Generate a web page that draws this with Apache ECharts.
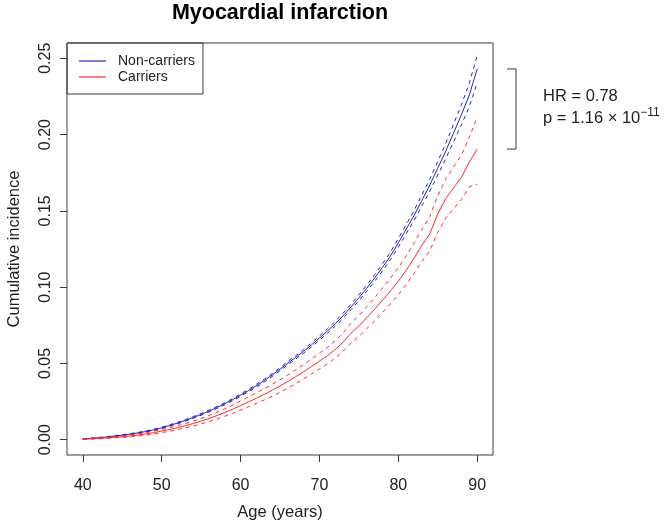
<!DOCTYPE html>
<html><head><meta charset="utf-8">
<script src="https://cdn.jsdelivr.net/npm/echarts@6/dist/echarts.min.js"></script>
<style>html,body{margin:0;padding:0;background:#fff}#c{width:666px;height:524px}</style>
</head><body><div id="c"></div>
<script>
// ---- data ----
const ages = [40,41,42,43,44,45,46,47,48,49,50,51,52,53,54,55,56,57,58,59,60,61,62,63,64,65,66,67,68,69,70,71,72,73,74,75,76,77,78,79,80,81,82,83,84,85,86,87,88,89,90];
const nonCarriers = [0.0005,0.0009,0.0013,0.0018,0.0024,0.0030,0.0037,0.0045,0.0054,0.0065,0.0078,0.0093,0.0109,0.0127,0.0146,0.0166,0.0188,0.0211,0.0236,0.0263,0.0292,0.0322,0.0354,0.0388,0.0424,0.0462,0.0502,0.0540,0.0580,0.0622,0.0666,0.0712,0.0760,0.0812,0.0870,0.0930,0.0993,0.1060,0.1130,0.1205,0.1290,0.1380,0.1470,0.1570,0.1670,0.1780,0.1890,0.2010,0.2130,0.2260,0.2430];
const nonCarriersUpper = [0.0007,0.0011,0.0015,0.0020,0.0027,0.0033,0.0040,0.0048,0.0058,0.0069,0.0082,0.0098,0.0114,0.0132,0.0152,0.0172,0.0194,0.0218,0.0243,0.0270,0.0300,0.0330,0.0363,0.0397,0.0434,0.0472,0.0513,0.0551,0.0592,0.0635,0.0680,0.0727,0.0776,0.0829,0.0888,0.0949,0.1013,0.1082,0.1153,0.1230,0.1318,0.1410,0.1503,0.1606,0.1710,0.1825,0.1940,0.2068,0.2196,0.2336,0.2520];
const nonCarriersLower = [0.0003,0.0007,0.0011,0.0016,0.0021,0.0027,0.0034,0.0042,0.0050,0.0061,0.0074,0.0088,0.0104,0.0122,0.0140,0.0160,0.0182,0.0204,0.0229,0.0256,0.0284,0.0314,0.0345,0.0379,0.0414,0.0452,0.0491,0.0529,0.0568,0.0609,0.0652,0.0697,0.0744,0.0795,0.0852,0.0911,0.0973,0.1038,0.1107,0.1180,0.1262,0.1350,0.1437,0.1534,0.1630,0.1735,0.1840,0.1952,0.2064,0.2184,0.2340];
const carriers = [0.0004,0.0006,0.0009,0.0012,0.0016,0.0020,0.0025,0.0031,0.0038,0.0046,0.0057,0.0067,0.0079,0.0092,0.0106,0.0122,0.0139,0.0158,0.0178,0.0200,0.0224,0.0248,0.0272,0.0297,0.0324,0.0352,0.0382,0.0413,0.0446,0.0480,0.0516,0.0550,0.0592,0.0640,0.0698,0.0745,0.0800,0.0855,0.0915,0.0975,0.1040,0.1110,0.1190,0.1275,0.1350,0.1480,0.1580,0.1650,0.1720,0.1820,0.1905];
const carriersUpper = [0.0006,0.0008,0.0012,0.0015,0.0020,0.0025,0.0031,0.0038,0.0046,0.0055,0.0067,0.0078,0.0092,0.0106,0.0122,0.0140,0.0159,0.0180,0.0203,0.0227,0.0254,0.0280,0.0307,0.0334,0.0363,0.0393,0.0425,0.0458,0.0493,0.0529,0.0568,0.0604,0.0649,0.0700,0.0763,0.0813,0.0872,0.0931,0.0995,0.1059,0.1129,0.1204,0.1290,0.1380,0.1462,0.1600,0.1708,0.1787,0.1866,0.1982,0.2115];
const carriersLower = [0.0002,0.0004,0.0006,0.0009,0.0012,0.0015,0.0019,0.0024,0.0030,0.0037,0.0047,0.0056,0.0066,0.0078,0.0090,0.0104,0.0119,0.0136,0.0154,0.0173,0.0194,0.0216,0.0238,0.0261,0.0285,0.0311,0.0339,0.0368,0.0399,0.0431,0.0464,0.0496,0.0535,0.0580,0.0633,0.0677,0.0728,0.0779,0.0835,0.0891,0.0951,0.1016,0.1090,0.1170,0.1238,0.1360,0.1452,0.1513,0.1574,0.1658,0.1675];
const xTicks = [40,50,60,70,80,90];
const yTicks = [0,0.05,0.10,0.15,0.20,0.25];
const titleText = 'Myocardial infarction';
const hrText = 'HR = 0.78';
const pMantissa = '1.16';
const pExponent = '\u221211';

// ---- chart ----
const FONT = '"Liberation Sans", Arimo, Arial, sans-serif';
const BLUE = '#2424bc', RED = '#ff2a2a', INK = '#222', FRAME = '#3a3a3a';
const G = {left: 67, right: 173, top: 43, bottom: 69};
const W = 666, H = 524;

function pts(arr) { return ages.map((a, i) => [a, arr[i]]); }
function line(name, arr, color, dashed) {
  return {
    name, type: 'line', data: pts(arr), symbol: 'none', silent: true,
    lineStyle: {color, width: 1, type: dashed ? [4, 4] : 'solid'},
    itemStyle: {color}
  };
}

const chart = echarts.init(document.getElementById('c'), null, {renderer: 'canvas'});
chart.setOption({
  animation: false,
  textStyle: {fontFamily: FONT},
  grid: Object.assign({show: true, borderColor: FRAME, borderWidth: 1, backgroundColor: 'transparent',
    containLabel: false, outerBoundsMode: 'none'}, G),
  xAxis: {
    type: 'value', min: 38, max: 92,
    axisLine: {show: false, onZero: false}, splitLine: {show: false},
    axisTick: {show: true, length: 7, customValues: xTicks, lineStyle: {color: FRAME}},
    axisLabel: {customValues: xTicks, margin: 23, fontSize: 16, color: INK, fontFamily: FONT},
    name: 'Age (years)', nameLocation: 'middle', nameGap: 49,
    nameTextStyle: {fontSize: 16.5, color: INK, fontFamily: FONT}
  },
  yAxis: {
    type: 'value', min: -0.01, max: 0.26,
    axisLine: {show: false, onZero: false}, splitLine: {show: false},
    axisTick: {show: true, length: 7, customValues: yTicks, lineStyle: {color: FRAME}},
    axisLabel: {customValues: yTicks, rotate: 90, margin: 13, fontSize: 16, color: INK, fontFamily: FONT,
      formatter: v => v.toFixed(2)},
    name: 'Cumulative incidence', nameLocation: 'middle', nameGap: 44, nameRotate: 90,
    nameTextStyle: {fontSize: 16.5, color: INK, fontFamily: FONT}
  },
  legend: {
    data: [{name: 'Non-carriers', icon: 'rect'}, {name: 'Carriers', icon: 'rect'}],
    orient: 'vertical', left: G.left, top: G.top,
    itemWidth: 27, itemHeight: 1.2, itemGap: 0, padding: [10, 8, 9, 12],
    borderColor: FRAME, borderWidth: 1, borderRadius: 0, selectedMode: false,
    textStyle: {fontSize: 14, lineHeight: 16, color: INK, fontFamily: FONT, padding: [0, 0, 0, 7]}
  },
  series: [
    line('Non-carriers', nonCarriers, BLUE, false),
    line('nc-upper', nonCarriersUpper, BLUE, true),
    line('nc-lower', nonCarriersLower, BLUE, true),
    line('Carriers', carriers, RED, false),
    line('c-upper', carriersUpper, RED, true),
    line('c-lower', carriersLower, RED, true)
  ]
});

// annotation placed from the data via the chart's own scale
const lastAge = ages[ages.length - 1];
const yTop = chart.convertToPixel({gridIndex: 0}, [lastAge, nonCarriers[nonCarriers.length - 1]])[1];
const yBot = chart.convertToPixel({gridIndex: 0}, [lastAge, carriers[carriers.length - 1]])[1];
const plotRight = W - G.right;
const bx = plotRight + 23;
const mid = (yTop + yBot) / 2;
chart.setOption({
  graphic: [
    {type: 'text', x: (G.left + plotRight) / 2, y: 13,
      style: {text: titleText, font: 'bold 21.5px ' + FONT, fill: '#000', textAlign: 'center', textVerticalAlign: 'middle'}},
    {type: 'polyline', shape: {points: [[bx - 9, yTop], [bx, yTop], [bx, yBot], [bx - 9, yBot]]},
      style: {stroke: FRAME, lineWidth: 1, fill: null}},
    {type: 'text', x: bx + 27, y: mid - 13,
      style: {text: hrText, font: '16.5px ' + FONT, fill: INK, textAlign: 'left', textVerticalAlign: 'middle'}},
    {type: 'text', x: bx + 27, y: mid + 9,
      style: {text: '{b|p = ' + pMantissa + ' \u00d7 10}{s|' + pExponent + '}', textAlign: 'left', textVerticalAlign: 'middle',
        rich: {b: {fontSize: 16.5, fontFamily: FONT, fill: INK, lineHeight: 22, verticalAlign: 'middle'},
               s: {fontSize: 12, fontFamily: FONT, fill: INK, lineHeight: 8, verticalAlign: 'top'}}}}
  ]
});
</script></body></html>
